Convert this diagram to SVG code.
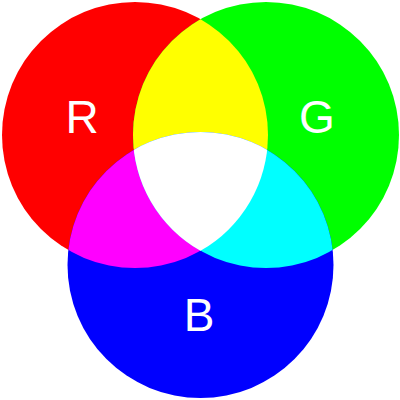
<svg xmlns="http://www.w3.org/2000/svg" width="400" height="400" viewBox="0 0 400 400">
<style>
text{font-family:"Liberation Sans",Arial,sans-serif;font-size:46px;fill:#fff;text-anchor:middle}
</style>
<defs>
<clipPath id="cr"><circle cx="135" cy="135" r="133"/></clipPath>
<clipPath id="cg"><circle cx="266" cy="135" r="133"/></clipPath>
<clipPath id="crg" clip-path="url(#cr)"><circle cx="266" cy="135" r="133"/></clipPath>
</defs>
<rect width="400" height="400" fill="#fff"/>
<g id="red"><circle cx="135" cy="135" r="133" fill="#f00"/></g>
<g id="green"><circle cx="266" cy="135" r="133" fill="#0f0"/></g>
<g id="blue"><circle cx="200.5" cy="265" r="133" fill="#00f"/></g>
<g id="yellow"><circle cx="266" cy="135" r="133" fill="#ff0" clip-path="url(#cr)"/></g>
<g id="magenta"><circle cx="200.5" cy="265" r="133" fill="#f0f" clip-path="url(#cr)"/></g>
<g id="cyan"><circle cx="200.5" cy="265" r="133" fill="#0ff" clip-path="url(#cg)"/></g>
<g id="white"><circle cx="200.5" cy="265" r="133" fill="#fff" clip-path="url(#crg)"/></g>
<g id="labels">
<text x="82" y="133">R</text>
<text x="317" y="133">G</text>
<text x="199" y="331">B</text>
</g>
</svg>
